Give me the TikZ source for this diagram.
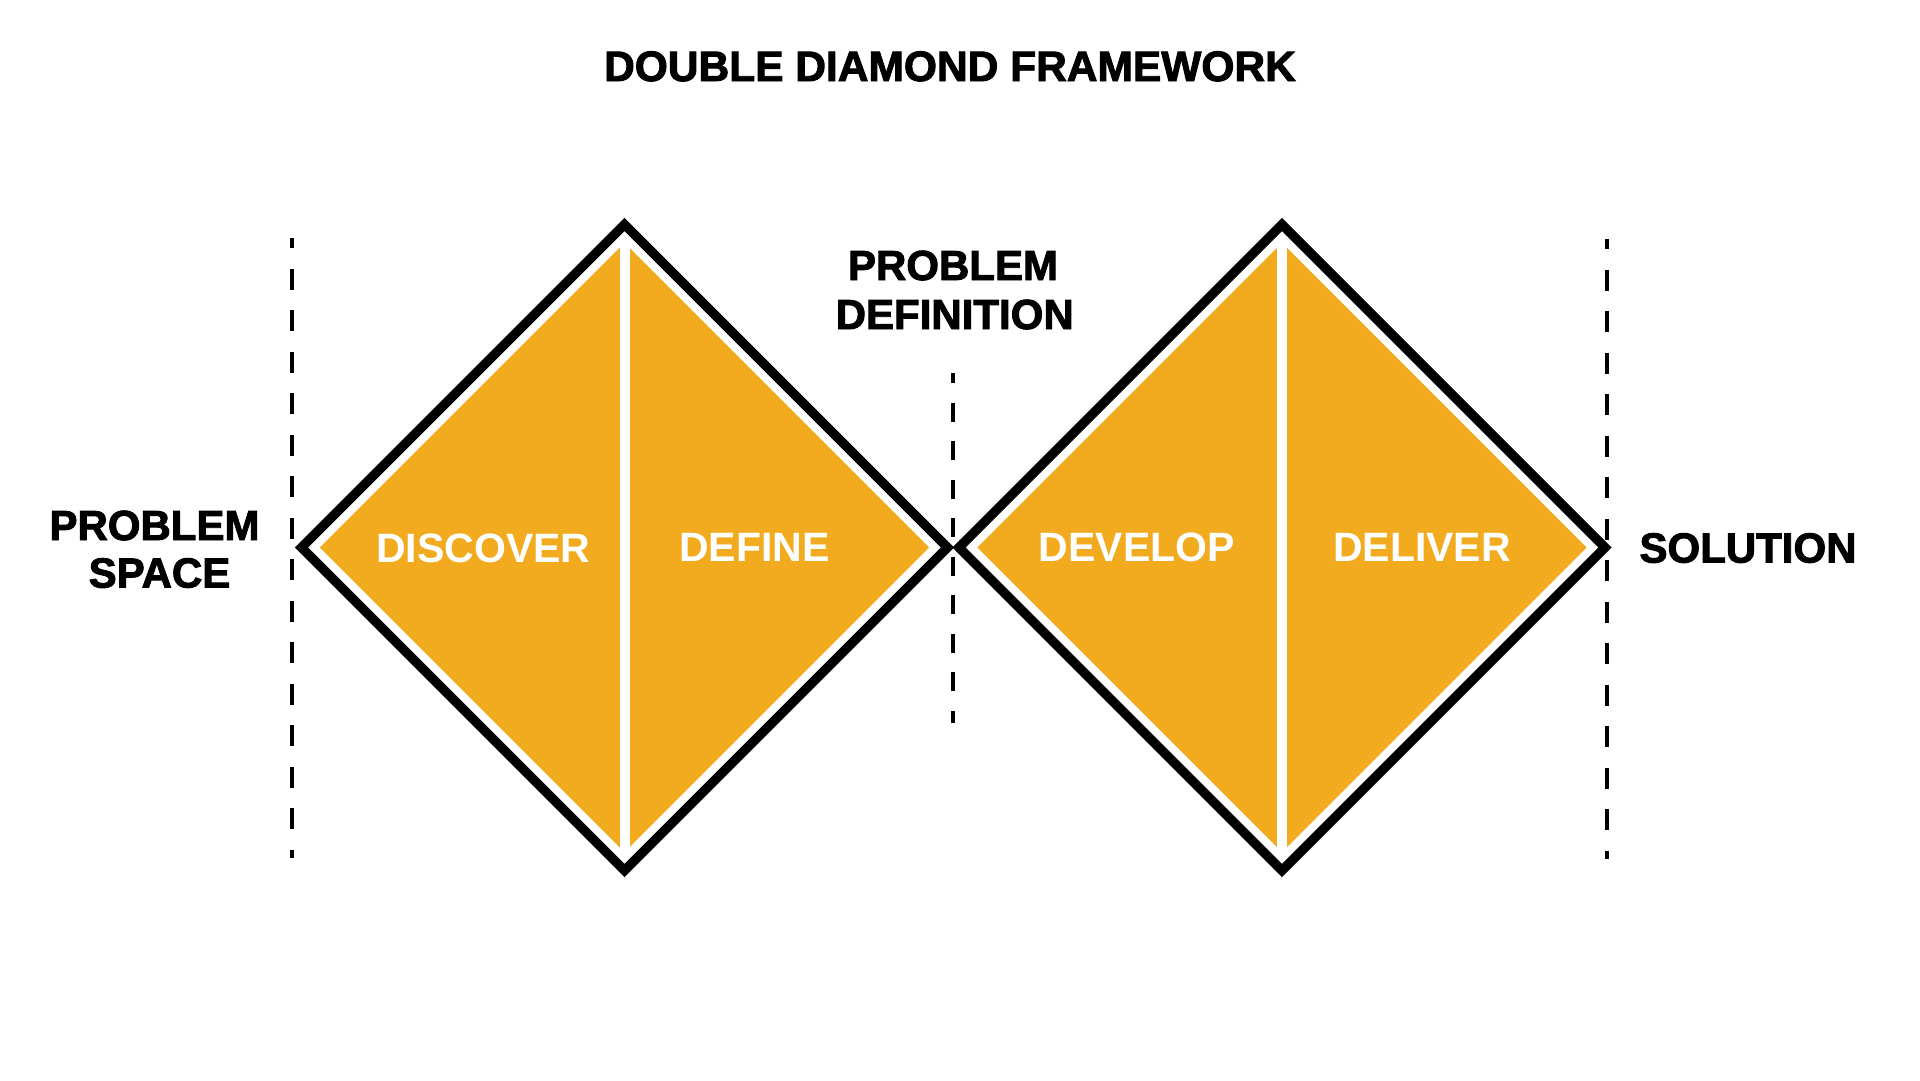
\documentclass[tikz,border=0pt]{standalone}
\usepackage{fontspec}
\setmainfont{Liberation Sans}
\newfontfamily\heavyfont{Liberation Sans}[BoldFeatures={FakeBold=2.2}]
\newfontfamily\whitefont{Liberation Sans}
\definecolor{ddorange}{HTML}{F2AB1F}
\tikzset{
  label/.style={anchor=base, align=center, inner sep=0pt, font=\heavyfont\bfseries\fontsize{42}{48}\selectfont, text=black},
  phase/.style={anchor=base, inner sep=0pt, font=\whitefont\bfseries\fontsize{41}{48}\selectfont, text=white},
  outline/.style={draw=black, line width=9.4pt, miter limit=10, line join=miter},
  fillpart/.style={fill=ddorange, draw=none},
  divider/.style={draw=white, line width=10pt},
  guide/.style={draw=black, line width=3.7pt, dash pattern=on 20.7pt off 20.8pt, dash phase=10.7pt},
  midguide/.style={draw=black, line width=3.7pt, dash pattern=on 19pt off 19.5pt, dash phase=9.1pt}
}
\begin{document}
\begin{tikzpicture}[x=1pt, y=-1pt]
\useasboundingbox[fill=white] (0,0) rectangle (1920,1080);
% centres
\coordinate (c1) at (624.5,547.5);
\coordinate (c2) at (1282,547.5);
% orange fills
\foreach \c in {c1,c2}{
  \fill[fillpart] ([xshift=-304.6pt]\c) -- ([yshift=304.6pt]\c) -- ([xshift=304.6pt]\c) -- ([yshift=-304.6pt]\c) -- cycle;
  \draw[divider] ([yshift=330pt]\c) -- ([yshift=-330pt]\c);
  \draw[outline] ([xshift=-323pt]\c) -- ([yshift=323pt]\c) -- ([xshift=323pt]\c) -- ([yshift=-323pt]\c) -- cycle;
}
% dashed guides
\coordinate (g1a) at (292,238);
\coordinate (g1b) at (292,858);
\coordinate (g2a) at (953.3,373.3);
\coordinate (g2b) at (953.3,723);
\coordinate (g3a) at (1607,239);
\coordinate (g3b) at (1607,859);
\draw[guide] (g1a) -- (g1b);
\draw[midguide] (g2a) -- (g2b);
\draw[guide] (g3a) -- (g3b);
% texts
\node[label, font=\heavyfont\bfseries\fontsize{42.5}{48}\selectfont] (title) at (950,81) {DOUBLE DIAMOND FRAMEWORK};
\node[label] (ps1) at (154.5,540) {PROBLEM};
\node[label] (ps2) at (159.5,587.5) {SPACE};
\node[label] (pd1) at (953,280) {PROBLEM};
\node[label] (pd2) at (954.7,329) {DEFINITION};
\node[label] (sol) at (1748,562.5) {SOLUTION};
\node[phase] (discover) at (483.3,562.3) {DISCOVER};
\node[phase] (define) at (754.5,561) {DEFINE};
\node[phase] (develop) at (1136.7,561) {DEVELOP};
\node[phase] (deliver) at (1422,561) {DELIVER};
\end{tikzpicture}
\end{document}
